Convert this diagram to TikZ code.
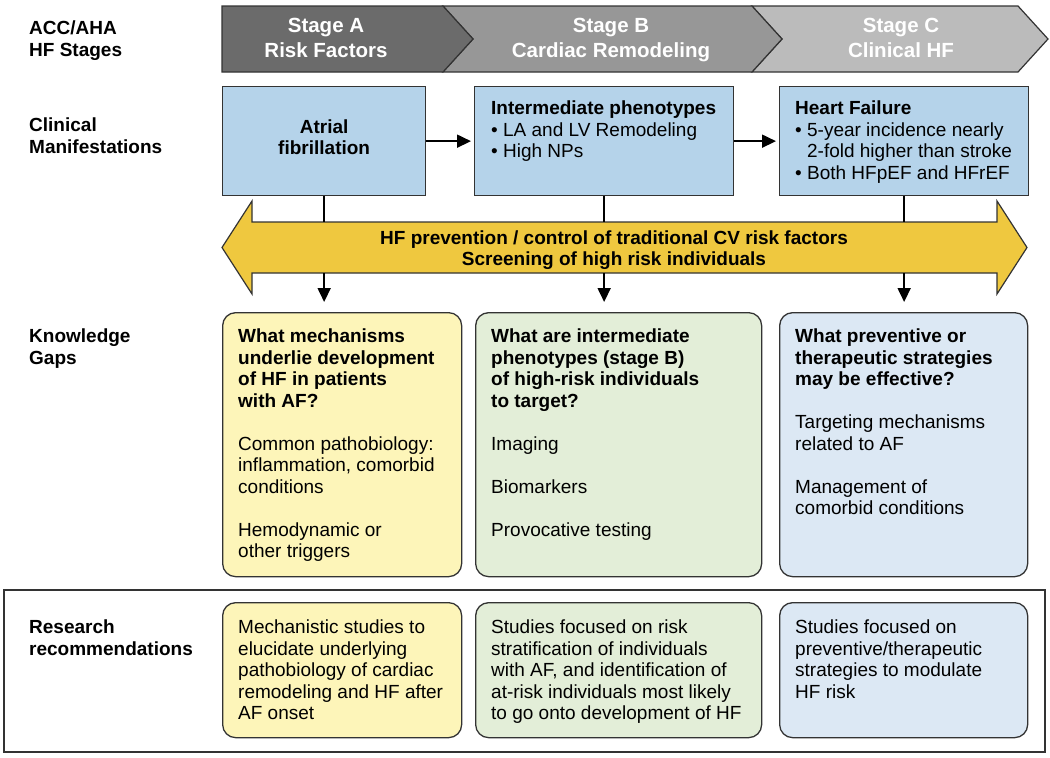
\documentclass[tikz,border=0pt]{standalone}
\usepackage{fontspec}
\setmainfont{Liberation Sans}
\usetikzlibrary{arrows.meta, positioning}
\definecolor{stageA}{HTML}{6B6B6B}
\definecolor{stageB}{HTML}{979797}
\definecolor{stageC}{HTML}{BBBBBB}
\definecolor{clinblue}{HTML}{B5D3EA}
\definecolor{gold}{HTML}{EFC83F}
\definecolor{gapyellow}{HTML}{FDF5B9}
\definecolor{gapgreen}{HTML}{E3EED8}
\definecolor{gapblue}{HTML}{DCE8F4}
\definecolor{edge}{HTML}{333333}
\tikzset{
  font=\fontsize{19}{21.5}\selectfont,
  rowlabel/.style = {
    anchor=north west,
    align=left,
    inner sep=0pt,
    font=\bfseries\fontsize{19}{22}\selectfont,
    execute at begin node=\strut % top of the node = first baseline - .7 baselineskip
  },
  stagetext/.style = {
    anchor=north,
    align=center,
    inner sep=0pt,
    text=white,
    font=\bfseries\fontsize{20.5}{25}\selectfont,
    execute at begin node=\strut
  },
  clinbox/.style = {
    draw=edge,
    line width=1.3pt,
    fill=clinblue,
    inner sep=0pt,
    anchor=north west,
    minimum height=109pt
  },
  gapbox/.style = {
    draw=edge,
    line width=1.3pt,
    rounded corners=13pt,
    inner sep=0pt,
    anchor=north west
  },
  boxtext/.style = {
    anchor=north west,
    align=left,
    inner sep=0pt,
    execute at begin node=\strut
  },
  link/.style = {line width=1.8pt},
  flow/.style = {line width=1.8pt, -{Triangle[length=14pt,width=13pt]}}
}

\begin{document}
\begin{tikzpicture}[x=1pt,y=-1pt]
  \useasboundingbox (0,0) rectangle (1050,758);

  % row labels
  \node[rowlabel] (lstage) at (29,20.6) {ACC/AHA\\HF Stages};
  \node[rowlabel] (lclin) at (29,117.6) {Clinical\\Manifestations};
  \node[rowlabel] (lgap) at (29,328.6) {Knowledge\\Gaps};
  \node[rowlabel] (lres) at (29,619.6) {Research\\recommendations};

  % stages
  \filldraw[fill=stageC, draw=edge, line width=1.2pt] (752,6) -- (1018,6) -- (1048,39) -- (1018,72) -- (752,72) -- (782,39) -- cycle;
  \filldraw[fill=stageB, draw=edge, line width=1.2pt] (443,6) -- (752,6) -- (782,39) -- (752,72) -- (443,72) -- (473,39) -- cycle;
  \filldraw[fill=stageA, draw=edge, line width=1.2pt] (222,6) -- (443,6) -- (473,39) -- (443,72) -- (222,72) -- cycle;
  \node[stagetext] (sA) at (326,17.5) {Stage A\\Risk Factors};
  \node[stagetext] (sB) at (611,17.5) {Stage B\\Cardiac Remodeling};
  \node[stagetext] (sC) at (901,17.5) {Stage C\\Clinical HF};

  % clinical manifestations
  \node[clinbox, minimum width=203pt] (c1) at (222,86) {};
  \node[clinbox, minimum width=259pt] (c2) at (474,86) {};
  \node[clinbox, minimum width=249pt] (c3) at (779,86) {};
  \node[align=center, inner sep=0pt, font=\bfseries\fontsize{19}{21.5}\selectfont] (t1) at ([yshift=4pt]c1.center) {Atrial\\fibrillation};
  \node[boxtext] (t2) at (491,101) {\textbf{Intermediate phenotypes}\\
    \textbullet\ LA and LV Remodeling\\
    \textbullet\ High NPs};
  \node[boxtext] (t3) at (795,101) {\textbf{Heart Failure}\\
    \textbullet\ 5-year incidence nearly\\
    \phantom{\textbullet\ }2-fold higher than stroke\\
    \textbullet\ Both HFpEF and HFrEF};

  \draw[flow, shorten >=3pt] (c1.east) -- (c2.west);
  \draw[flow, shorten >=3pt] (c2.east) -- (c3.west);

  % prevention arrow
  \filldraw[fill=gold, draw=edge, line width=1.2pt] (222,247.5) -- (252,201) -- (252,222) -- (997,222) -- (997,201) -- (1027,247.5)
    -- (997,294) -- (997,273) -- (252,273) -- (252,294) -- cycle;
  \coordinate (ptop) at (0,222);
  \coordinate (pbot) at (0,273);
  \node[align=center, inner sep=0pt, font=\bfseries\fontsize{19}{21}\selectfont] (prev) at (614,250)
    {HF prevention / control of traditional CV risk factors\\Screening of high risk individuals};

  \draw[link] (c1.south) -- (c1.south |- ptop);
  \draw[link] (c2.south) -- (c2.south |- ptop);
  \draw[link] (c3.south) -- (c3.south |- ptop);

  % knowledge gaps
  \node[gapbox, fill=gapyellow, minimum width=239pt, minimum height=264pt] (g1) at (222,312) {};
  \node[gapbox, fill=gapgreen, minimum width=286pt, minimum height=264pt] (g2) at (475,312) {};
  \node[gapbox, fill=gapblue, minimum width=248pt, minimum height=264pt] (g3) at (779,312) {};

  \draw[flow, shorten >=10pt] (c1.south |- pbot) -- (c1.south |- g1.north);
  \draw[flow, shorten >=10pt] (c2.south |- pbot) -- (c2.south |- g2.north);
  \draw[flow, shorten >=10pt] (c3.south |- pbot) -- (c3.south |- g3.north);

  \node[boxtext] (q1) at (238,329) {\textbf{What mechanisms}\\
    \textbf{underlie development}\\
    \textbf{of HF in patients}\\
    \textbf{with AF?}\\[21.5pt]
    Common pathobiology:\\
    inflammation, comorbid\\
    conditions\\[21.5pt]
    Hemodynamic or\\
    other triggers};
  \node[boxtext] (q2) at (491,329) {\textbf{What are intermediate}\\
    \textbf{phenotypes (stage B)}\\
    \textbf{of high-risk individuals}\\
    \textbf{to target?}\\[21.5pt]
    Imaging\\[21.5pt]
    Biomarkers\\[21.5pt]
    Provocative testing};
  \node[boxtext] (q3) at (795,329) {\textbf{What preventive or}\\
    \textbf{therapeutic strategies}\\
    \textbf{may be effective?}\\[21.5pt]
    Targeting mechanisms\\
    related to AF\\[21.5pt]
    Management of\\
    comorbid conditions};

  % research recommendations
  \draw[edge, line width=1.2pt] (4,590) rectangle (1045,752);
  \node[gapbox, fill=gapyellow, minimum width=239pt, minimum height=135pt] (r1) at (222,602) {};
  \node[gapbox, fill=gapgreen, minimum width=286pt, minimum height=135pt] (r2) at (475,602) {};
  \node[gapbox, fill=gapblue, minimum width=248pt, minimum height=135pt] (r3) at (779,602) {};

  \node[boxtext] (m1) at (238,620) {Mechanistic studies to\\
    elucidate underlying\\
    pathobiology of cardiac\\
    remodeling and HF after\\
    AF onset};
  \node[boxtext] (m2) at (491,620) {Studies focused on risk\\
    stratification of individuals\\
    with AF, and identification of\\
    at-risk individuals most likely\\
    to go onto development of HF};
  \node[boxtext] (m3) at (795,620) {Studies focused on\\
    preventive/therapeutic\\
    strategies to modulate\\
    HF risk};
\end{tikzpicture}
\end{document}
